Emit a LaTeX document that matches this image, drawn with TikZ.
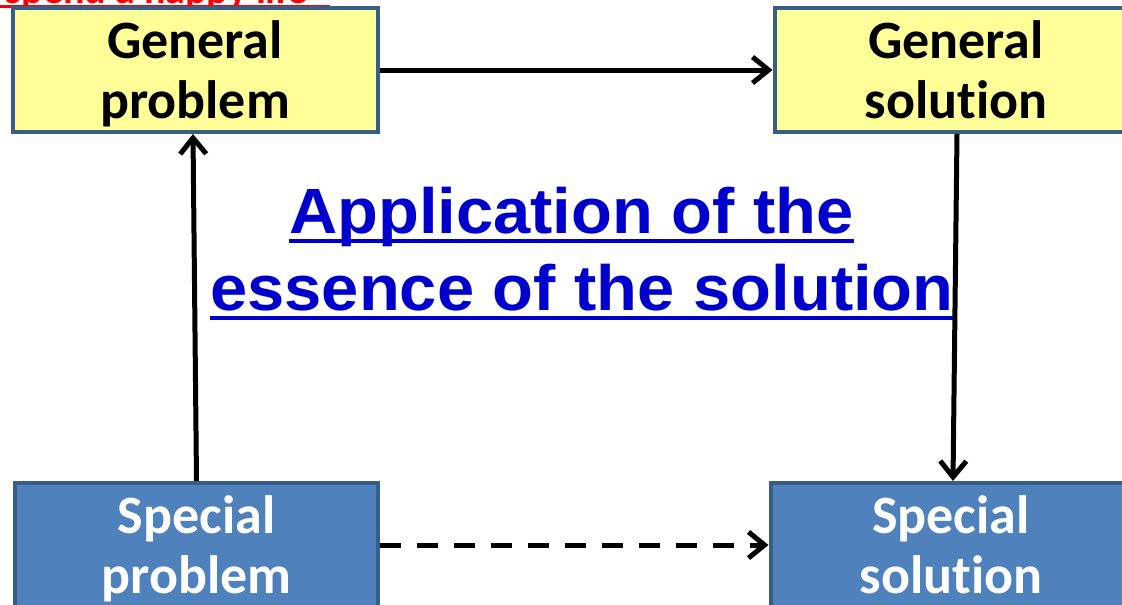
\documentclass[tikz,border=0pt]{standalone}
\usepackage{fontspec}
\setmainfont{Carlito}[Ligatures=NoCommon]
\newfontfamily\arialb[FakeStretch=1.045]{Liberation Sans}
\usetikzlibrary{arrows.meta}
\definecolor{boxyellow}{HTML}{FFFF99}
\definecolor{boxblue}{HTML}{4F81BD}
\definecolor{boxborder}{HTML}{385D8A}
\definecolor{apptext}{HTML}{0000CC}
\definecolor{redtext}{HTML}{FF0000}
\newcommand{\firstline}{\rule{0pt}{50pt}}
\newcommand{\lastline}{\rule[-14pt]{0pt}{14pt}}
\tikzset{
  genbox/.style={draw=boxborder, line width=4pt, fill=boxyellow, text=black,
    minimum height=120pt, inner sep=0pt, align=center,
    font=\fontsize{54}{60}\selectfont\bfseries},
  specbox/.style={genbox, fill=boxblue, text=white},
  conn/.style={line width=5pt, -{Straight Barb[length=16pt,width=26pt]}},
  apptxt/.style={inner sep=0pt, text=apptext, font=\arialb\fontsize{64}{70}\selectfont\bfseries},
  appline/.style={draw=apptext, line width=3.5pt},
}
\begin{document}
\begin{tikzpicture}[x=1pt,y=-1pt]
\useasboundingbox (0,0) rectangle (1122,605);
\fill[white] (0,0) rectangle (1122,605);
% clipped red title
\node[inner sep=0pt, anchor=base east, text=redtext, font=\fontsize{40}{44}\selectfont\bfseries] (title) at (308,4) {spend a happy life};
\coordinate (ulend) at (330,6.5);
\draw[redtext, line width=2.5pt] (0,6.5) -- (ulend);
% boxes
\node[genbox, minimum width=365pt] (gp) at (195,70) {\firstline General\\problem\lastline};
\node[genbox, minimum width=363pt] (gs) at (956,70) {\firstline General\\solution\lastline};
\node[specbox, minimum width=363pt] (sp) at (196.5,545) {\firstline Special\\problem\lastline};
\node[specbox, minimum width=361pt] (ss) at (951,545) {\firstline Special\\solution\lastline};
% central text
\node[apptxt, anchor=base] (t1) at (571.5,233) {Application of the};
\node[apptxt, anchor=base] (t2) at (582,310) {essence of the solution};
\draw[appline] ([yshift=-8pt]t1.base west) -- ([yshift=-8pt]t1.base east);
\draw[appline] ([yshift=-8pt]t2.base west) -- ([yshift=-8pt]t2.base east);
% connectors
\draw[conn] (gp.east) -- (gs.west);
\draw[conn] (sp.north) -- ([xshift=-2pt]gp.south);
\draw[conn] ([xshift=1pt]gs.south) -- ([xshift=2pt]ss.north);
\draw[conn, dash pattern=on 21pt off 16pt] (sp.east) -- (ss.west);
\end{tikzpicture}
\end{document}
